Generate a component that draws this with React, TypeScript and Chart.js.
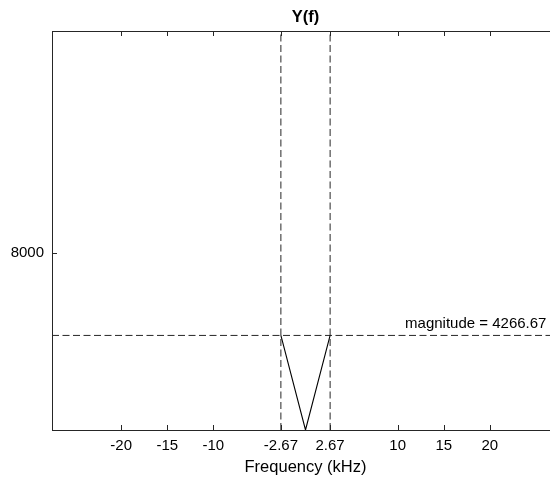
import React, { useEffect, useRef } from "react";
import { Chart, registerables } from "chart.js";

Chart.register(...registerables);

// ---- data ----
const xRange = [-27.5, 27.5];
const yRange = [0, 18000];
const xTickValues = [-20, -15, -10, -2.67, 2.67, 10, 15, 20];
const xTickLabels = ["-20", "-15", "-10", "-2.67", "2.67", "10", "15", "20"];
const yTickValues = [8000];
const yTickLabels = ["8000"];
const bandEdges = [-2.67, 2.67];
const magnitude = 4266.67;
const spectrumFreq = [-2.67, 0, 2.67];
const spectrumMag = [4266.67, 0, 4266.67];
const titleText = "Y(f)";
const xLabel = "Frequency (kHz)";
const annotationText = "magnitude = 4266.67";
const annotationX = 10.8;

const FONT = '"Liberation Sans", Arial, Helvetica, sans-serif';
const AXIS = "#262626";

export default function App() {
  const ref = useRef<HTMLCanvasElement | null>(null);

  useEffect(() => {
    if (!ref.current) return;
    const spectrum = spectrumFreq.map((f, i) => ({ x: f, y: spectrumMag[i] }));
    const verticals = bandEdges.map((e) => [
      { x: e, y: yRange[0] },
      { x: e, y: yRange[1] },
    ]);
    const horizontal = [
      { x: xRange[0], y: magnitude },
      { x: xRange[1], y: magnitude },
    ];
    const dash = [7, 3.5];

    const overlay = {
      id: "overlay",
      afterDraw(chart: any) {
        const { ctx, chartArea, scales } = chart;
        const xs = scales.x;
        const ys = scales.y;
        const tl = 5;
        ctx.save();
        ctx.strokeStyle = AXIS;
        ctx.lineWidth = 1;
        ctx.beginPath();
        // top border
        ctx.moveTo(chartArea.left, Math.round(chartArea.top) + 0.5);
        ctx.lineTo(chartArea.right, Math.round(chartArea.top) + 0.5);
        // right border
        ctx.moveTo(Math.round(chartArea.right) - 0.5, chartArea.top);
        ctx.lineTo(Math.round(chartArea.right) - 0.5, chartArea.bottom);
        // x inner ticks
        xTickValues.forEach((v) => {
          const px = Math.round(xs.getPixelForValue(v)) + 0.5;
          ctx.moveTo(px, chartArea.bottom);
          ctx.lineTo(px, chartArea.bottom - tl);
          ctx.moveTo(px, chartArea.top);
          ctx.lineTo(px, chartArea.top + tl);
        });
        yTickValues.forEach((v) => {
          const py = Math.round(ys.getPixelForValue(v)) + 0.5;
          ctx.moveTo(chartArea.left, py);
          ctx.lineTo(chartArea.left + tl, py);
          ctx.moveTo(chartArea.right, py);
          ctx.lineTo(chartArea.right - tl, py);
        });
        ctx.stroke();

        // title
        ctx.fillStyle = "#000000";
        ctx.font = `bold 16.5px ${FONT}`;
        ctx.textAlign = "center";
        ctx.textBaseline = "middle";
        ctx.fillText(titleText, (chartArea.left + chartArea.right) / 2, 17.5);

        // annotation
        ctx.fillStyle = "#000000";
        ctx.font = `15px ${FONT}`;
        ctx.textAlign = "left";
        ctx.textBaseline = "alphabetic";
        ctx.fillText(
          annotationText,
          xs.getPixelForValue(annotationX),
          ys.getPixelForValue(magnitude) - 7
        );
        ctx.restore();
      },
    };

    const chart = new Chart(ref.current, {
      type: "scatter",
      data: {
        datasets: [
          {
            data: spectrum,
            showLine: true,
            borderColor: "#000000",
            borderWidth: 1.1,
            pointRadius: 0,
          },
          ...verticals.map((d) => ({
            data: d,
            showLine: true,
            borderColor: AXIS,
            borderWidth: 1,
            borderDash: dash,
            pointRadius: 0,
          })),
          {
            data: horizontal,
            showLine: true,
            borderColor: AXIS,
            borderWidth: 1,
            borderDash: dash,
            pointRadius: 0,
          },
        ],
      },
      plugins: [overlay],
      options: {
        animation: false,
        responsive: false,
        devicePixelRatio: 1,
        layout: { padding: { top: 31, right: 41, left: 0, bottom: 0 } },
        plugins: {
          legend: { display: false },
          tooltip: { enabled: false },
          title: { display: false },
        },
        scales: {
          x: {
            type: "linear",
            min: xRange[0],
            max: xRange[1],
            afterBuildTicks: (s: any) => {
              s.ticks = xTickValues.map((v) => ({ value: v }));
            },
            afterFit: (s: any) => {
              s.height = 51;
            },
            grid: { display: false, drawTicks: false, tickLength: 0 },
            border: { display: true, color: AXIS, width: 1 },
            ticks: {
              autoSkip: false,
              maxRotation: 0,
              minRotation: 0,
              padding: 7,
              color: "#000000",
              font: { family: FONT, size: 15 },
              callback: (v: any) => {
                const i = xTickValues.indexOf(Number(v));
                return i >= 0 ? xTickLabels[i] : "";
              },
            },
            title: {
              display: true,
              text: xLabel,
              color: "#000000",
              font: { family: FONT, size: 16.5 },
              padding: { top: 0, bottom: 4 },
            },
          },
          y: {
            type: "linear",
            min: yRange[0],
            max: yRange[1],
            afterBuildTicks: (s: any) => {
              s.ticks = yTickValues.map((v) => ({ value: v }));
            },
            afterFit: (s: any) => {
              s.width = 52;
            },
            grid: { display: false, drawTicks: false, tickLength: 0 },
            border: { display: true, color: AXIS, width: 1 },
            ticks: {
              padding: 8,
              color: "#000000",
              font: { family: FONT, size: 15 },
              callback: (v: any) => {
                const i = yTickValues.indexOf(Number(v));
                return i >= 0 ? yTickLabels[i] : "";
              },
            },
          },
        },
      },
    } as any);
    return () => chart.destroy();
  }, []);

  return (
    <div
      style={{
        position: "fixed",
        left: 0,
        top: 0,
        width: 550,
        height: 481,
        overflow: "hidden",
        background: "#ffffff",
      }}
    >
      <canvas
        ref={ref}
        width={600}
        height={481}
        style={{ width: 600, height: 481, display: "block" }}
      />
    </div>
  );
}
